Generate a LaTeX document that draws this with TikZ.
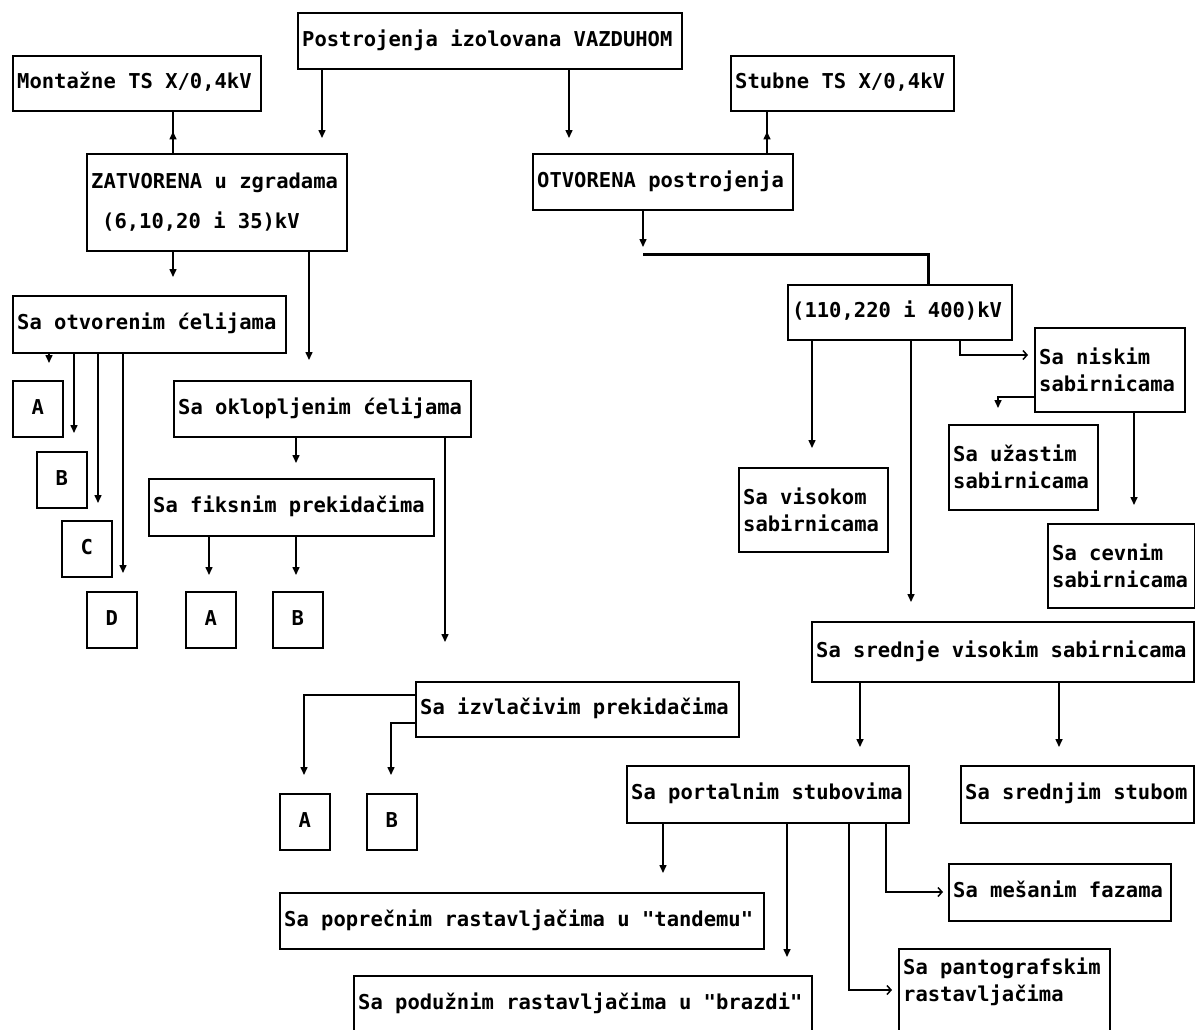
\documentclass[tikz,border=0pt]{standalone}
\usepackage{fontspec}
\newfontfamily\dmono{DejaVu Sans Mono}
\usetikzlibrary{arrows.meta,decorations.markings}
\tikzset{
  bxs/.style={draw, line width=1.6pt, anchor=north west, inner sep=0pt},
  txtfont/.style={font=\dmono\bfseries\fontsize{20.5}{27}\selectfont},
  lbl/.style={txtfont, anchor=west, align=left, inner sep=0pt, text height=15pt, text depth=4pt},
  lbltwo/.style={txtfont, anchor=west, align=left, inner sep=0pt},
  con/.style={line width=1.5pt},
  arr/.style={con, -{Triangle[width=7pt,length=8pt]}},
  harr/.style={con, -{Straight Barb[length=4pt,width=9pt]}},
  uparr/.style={con, postaction={decorate}, decoration={markings, mark=at position 0.52 with {\arrow{Triangle[width=7pt,length=8pt]}}}},
  busline/.style={line width=3pt},
}
% box with left aligned text: [style]{name}{x1}{y1}{x2}{y2}{text}
\newcommand\bx[7][lbl]{%
  \pgfmathsetmacro\bxw{#5-#3}\pgfmathsetmacro\bxh{#6-#4}%
  \node[bxs, minimum width=\bxw pt, minimum height=\bxh pt] (#2) at (#3,#4) {};%
  \node[#1] (#2-t) at ([xshift=5pt]#2.west) {#7};}
% small letter box with centered text
\newcommand\lbx[4]{%
  \node[bxs, minimum width=50pt, minimum height=56pt] (#1) at (#2,#3) {};%
  \node[lbl, anchor=center] (#1-t) at (#1.center) {#4};}
\begin{document}
\begin{tikzpicture}[x=1pt,y=-1pt]
\clip (0,0) rectangle (1195,1029);
\useasboundingbox (0,0) rectangle (1195,1029);
\fill[white] (0,0) rectangle (1195,1029);

% ---------- boxes ----------
\bx{P}{297}{12}{681}{68}{Postrojenja izolovana VAZDUHOM}
\bx{mont}{12}{55}{260}{110}{Montažne TS X/0,4kV}
\bx{stub}{730}{55}{953}{110}{Stubne TS X/0,4kV}
\bx[lbltwo]{zat}{86}{153}{346}{250}{ZATVORENA u zgradama\\[13pt]\hspace*{11pt}(6,10,20 i 35)kV}
\bx{otv}{532}{153}{792}{209}{OTVORENA postrojenja}
\bx{sotv}{12}{295}{285}{352}{Sa otvorenim ćelijama}
\lbx{A1}{12}{380}{A}
\lbx{B1}{36}{451}{B}
\lbx{C1}{61}{520}{C}
\lbx{D1}{86}{591}{D}
\bx{okl}{173}{380}{470}{436}{Sa oklopljenim ćelijama}
\bx{fix}{148}{478}{433}{535}{Sa fiksnim prekidačima}
\lbx{A2}{185}{591}{A}
\lbx{B2}{272}{591}{B}
\bx{izv}{415}{681}{738}{736}{Sa izvlačivim prekidačima}
\lbx{A3}{279}{793}{A}
\lbx{B3}{366}{793}{B}
\bx{kv}{787}{284}{1011}{339}{(110,220 i 400)kV}
\bx[lbltwo]{vis}{738}{467}{887}{551}{Sa visokom\\sabirnicama}
\bx[lbltwo]{nis}{1034}{327}{1184}{411}{Sa niskim\\sabirnicama}
\bx[lbltwo]{uz}{948}{424}{1097}{509}{Sa užastim\\sabirnicama}
\bx[lbltwo]{cev}{1047}{523}{1194}{607}{Sa cevnim\\sabirnicama}
\bx{sred}{811}{621}{1193}{681}{Sa srednje visokim sabirnicama}
\bx{por}{626}{765}{908}{822}{Sa portalnim stubovima}
\bx{sst}{960}{765}{1193}{822}{Sa srednjim stubom}
\bx{tan}{279}{892}{763}{948}{Sa poprečnim rastavljačima u "tandemu"}
\bx{mes}{948}{863}{1170}{920}{Sa mešanim fazama}
\pgfmathsetmacro\bxw{811-353}
\node[bxs, minimum width=\bxw pt, minimum height=62pt] (bra) at (353,975) {};
\node[lbl] (bra-t) at ([xshift=5pt]bra.north west |- 0,1004) {Sa podužnim rastavljačima u "brazdi"};
\pgfmathsetmacro\bxw{1109-898}
\node[bxs, minimum width=\bxw pt, minimum height=82pt] (pan) at (898,948) {};
\node[lbltwo, anchor=north west] (pan-t) at ([xshift=5pt,yshift=-10pt]pan.north west) {Sa pantografskim\\rastavljačima};

% ---------- connectors ----------
\draw[arr, shorten >=15pt] (322,0 |- P.south) -- (322,0 |- zat.north);
\draw[arr, shorten >=15pt] (569,0 |- P.south) -- (569,0 |- otv.north);
\draw[uparr] (173,0 |- zat.north) -- (173,0 |- mont.south);
\draw[uparr] (767,0 |- otv.north) -- (767,0 |- stub.south);
\draw[arr, shorten >=18pt] (173,0 |- zat.south) -- (173,0 |- sotv.north);
\draw[arr, shorten >=20pt] (309,0 |- zat.south) -- (309,0 |- okl.north);
\draw[arr, shorten >=17pt] (49,0 |- sotv.south) -- (49,0 |- A1.north);
\draw[arr, shorten >=18pt] (74,0 |- sotv.south) -- (74,0 |- B1.north);
\draw[arr, shorten >=17pt] (98,0 |- sotv.south) -- (98,0 |- C1.north);
\draw[arr, shorten >=18pt] (123,0 |- sotv.south) -- (123,0 |- D1.north);
\draw[arr, shorten >=15pt] (296,0 |- okl.south) -- (296,0 |- fix.north);
\draw[arr, shorten >=16pt] (209,0 |- fix.south) -- (209,0 |- A2.north);
\draw[arr, shorten >=16pt] (296,0 |- fix.south) -- (296,0 |- B2.north);
\draw[arr, shorten >=39pt] (445,0 |- okl.south) -- (445,0 |- izv.north);
\draw[arr, shorten >=18pt] (izv.west |- 0,695) -| (304,0 |- A3.north);
\draw[arr, shorten >=18pt] (izv.west |- 0,723) -| (391,0 |- B3.north);

\coordinate (busL) at (643,254);
\coordinate (busR) at (928,254);
\draw[arr, shorten >=7pt] (643,0 |- otv.south) -- (busL);
\draw[busline] (busL) -- (busR) -- (busR |- kv.north);
\draw[arr, shorten >=19pt] (812,0 |- kv.south) -- (812,0 |- vis.north);
\draw[arr, shorten >=19pt] (911,0 |- kv.south) -- (911,0 |- sred.north);
\draw[harr, shorten >=6pt] (960,0 |- kv.south) |- (nis.west |- 0,355);
\draw[arr, shorten >=16pt] (nis.west |- 0,397) -| (998,0 |- uz.north);
\draw[arr, shorten >=18pt] (1134,0 |- nis.south) -- (1134,0 |- cev.north);
\draw[arr, shorten >=18pt] (860,0 |- sred.south) -- (860,0 |- por.north);
\draw[arr, shorten >=18pt] (1059,0 |- sred.south) -- (1059,0 |- sst.north);
\draw[arr, shorten >=19pt] (663,0 |- por.south) -- (663,0 |- tan.north);
\draw[arr, shorten >=18pt] (787,0 |- por.south) -- (787,0 |- bra.north);
\draw[harr, shorten >=6pt] (849,0 |- por.south) |- (pan.west |- 0,990);
\draw[harr, shorten >=5pt] (886,0 |- por.south) |- (mes.west |- 0,892);
\end{tikzpicture}
\end{document}
